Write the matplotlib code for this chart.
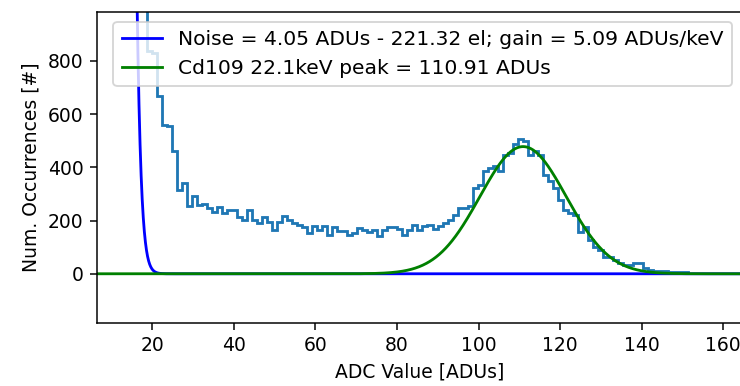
import numpy as np
import matplotlib
matplotlib.use('Agg')
import matplotlib.pyplot as plt

# histogram counts (bin width ~1.23 ADU), first bins are the pedestal tail off the top
pedestal_counts = [160000, 95000, 52000, 28000, 15000, 8200, 4700, 2900, 1900, 1350, 1050]
spectrum_counts = [
    838, 830, 668, 561, 555, 461, 316, 341, 253, 291,
    259, 262, 247, 234, 250, 228, 238, 238, 215, 203,
    240, 203, 190, 215, 196, 165, 196, 218, 203, 192,
    184, 177, 153, 180, 164, 180, 146, 177, 162, 160,
    146, 153, 173, 164, 158, 164, 142, 164, 174, 174,
    168, 146, 164, 184, 164, 180, 184, 170, 180, 192,
    203, 221, 247, 247, 255, 323, 335, 385, 398, 404,
    385, 448, 454, 486, 505, 498, 448, 460, 448, 372,
    347, 322, 278, 240, 228, 222, 158, 177, 127, 102,
    89, 64, 64, 52, 39, 33, 33, 39, 42, 20,
    16, 12, 12, 10, 8, 8, 8, 8,
]
bin_start = 5.06
bin_width = 1.23

# fit results
noise_amp, noise_mu, noise_sigma = 3.2e6, 0.0, 4.05
peak_amp, peak_mu, peak_sigma = 478.0, 110.91, 10.6
noise_label = 'Noise = 4.05 ADUs - 221.32 el; gain = 5.09 ADUs/keV'
peak_label = 'Cd109 22.1keV peak = 110.91 ADUs'


def gauss(x, a, mu, sigma):
    return a * np.exp(-(x - mu) ** 2 / (2 * sigma ** 2))


counts = np.array(pedestal_counts + spectrum_counts, dtype=float)
edges = bin_start + bin_width * np.arange(len(counts) + 1)
xfit = np.linspace(0, 175, 2000)

dpi = 135
fig = plt.figure(figsize=(740 / dpi, 386 / dpi), dpi=dpi)
ax = fig.add_axes([96.5 / 740, 63 / 386, (742 - 96.5) / 740, (323 - 11.7) / 386])

ax.hist(edges[:-1], bins=edges, weights=counts, histtype='step', linewidth=1.5)
ax.plot(xfit, gauss(xfit, noise_amp, noise_mu, noise_sigma), 'b', label=noise_label)
ax.plot(xfit, gauss(xfit, peak_amp, peak_mu, peak_sigma), 'g', label=peak_label)

ax.set_xlim(6.3, 164.6)
ax.set_ylim(-185, 985)
ax.set_xticks([20, 40, 60, 80, 100, 120, 140, 160])
ax.set_yticks([0, 200, 400, 600, 800])
ax.set_xlabel('ADC Value [ADUs]')
ax.set_ylabel('Num. Occurrences [#]')
ax.legend(loc='upper right', fontsize=10.8)

fig.savefig('out.png', dpi=dpi)
